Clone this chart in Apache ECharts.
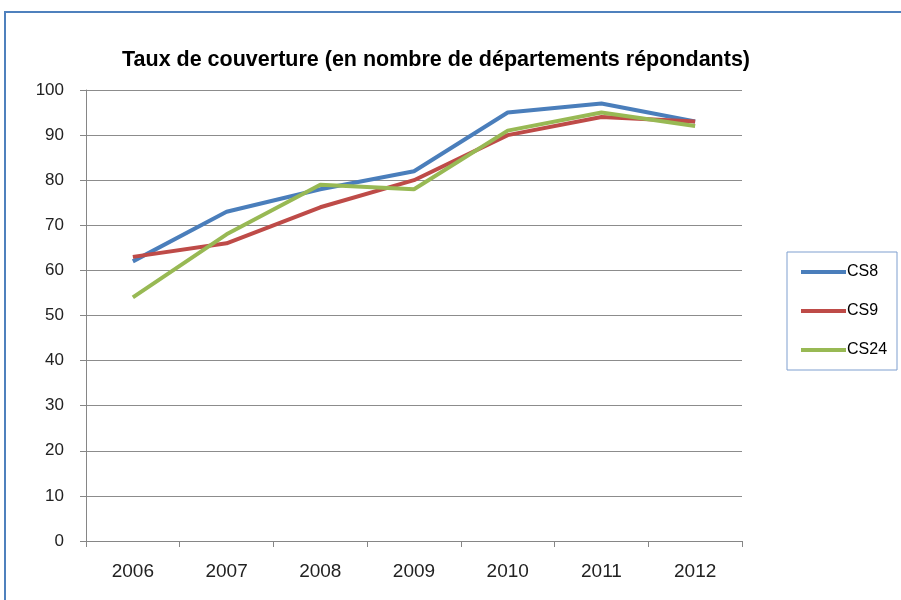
<!DOCTYPE html>
<html>
<head>
<meta charset="utf-8">
<script src="https://cdn.jsdelivr.net/npm/echarts@6/dist/echarts.min.js"></script>
<style>
  html, body { margin: 0; padding: 0; background: #fff; }
  #chart { width: 901px; height: 600px; }
</style>
</head>
<body>
<div id="chart"></div>
<script>
  var years = ['2006', '2007', '2008', '2009', '2010', '2011', '2012'];
  var cs8 = [62, 73, 78, 82, 95, 97, 93];
  var cs9 = [63, 66, 74, 80, 90, 94, 93];
  var cs24 = [54, 68, 79, 78, 91, 95, 92];

  var chart = echarts.init(document.getElementById('chart'));
  var font = '"Liberation Sans", Arial, sans-serif';

  function line (name, data, color) {
    return {
      name: name,
      type: 'line',
      data: data,
      symbol: 'none',
      lineStyle: { color: color, width: 4 },
      itemStyle: { color: color },
      animation: false
    };
  }

  chart.setOption({
    graphic: [
      { // outer chart frame
        type: 'rect',
        shape: { x: 5, y: 12, width: 920, height: 620 },
        style: { fill: null, stroke: '#4f81bd', lineWidth: 2 }
      },
      { // legend frame
        type: 'rect',
        shape: { x: 787, y: 252, width: 110, height: 118 },
        style: { fill: null, stroke: '#7f9fcf', lineWidth: 1 }
      }
    ],
    title: {
      text: 'Taux de couverture (en nombre de départements répondants)',
      left: 431,
      top: 44,
      textAlign: 'center',
      textStyle: { fontFamily: font, fontSize: 21.5, fontWeight: 'bold', color: '#000' }
    },
    legend: {
      orient: 'vertical',
      left: 796,
      top: 258,
      itemGap: 21,
      itemWidth: 45,
      itemHeight: 4,
      icon: 'rect',
      data: ['CS8', 'CS9', 'CS24'],
      textStyle: { fontFamily: font, fontSize: 16, color: '#000', padding: [0, 0, 0, -4], lineHeight: 18 }
    },
    grid: { left: 86, top: 90, width: 656, height: 451, containLabel: false },
    xAxis: {
      type: 'category',
      data: years,
      boundaryGap: true,
      axisLine: { lineStyle: { color: '#868686', width: 1 } },
      axisTick: { show: true, length: 6, lineStyle: { color: '#868686' } },
      axisLabel: { fontFamily: font, fontSize: 19, color: '#222', margin: 21 }
    },
    yAxis: {
      type: 'value',
      min: 0,
      max: 100,
      interval: 10,
      axisLine: { show: true, lineStyle: { color: '#868686', width: 1 } },
      axisTick: { show: true, length: 6, lineStyle: { color: '#868686' } },
      axisLabel: { fontFamily: font, fontSize: 17, color: '#222', margin: 22 },
      splitLine: { lineStyle: { color: '#8c8c8c', width: 1 } }
    },
    series: [
      line('CS8', cs8, '#4a7ebb'),
      line('CS9', cs9, '#be4b48'),
      line('CS24', cs24, '#98b954')
    ]
  });
</script>
</body>
</html>
